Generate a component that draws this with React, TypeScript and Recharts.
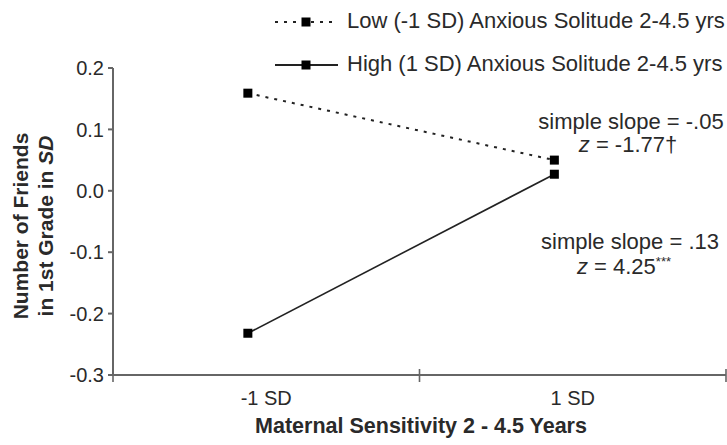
import { LineChart, Line, XAxis, YAxis, Customized } from 'recharts';

// data
const groups = ['-1 SD', '1 SD'];
const groupX = [0.44, 1.44];
const lowAS = [0.159, 0.05];
const highAS = [-0.232, 0.027];
const yTicks = [-0.3, -0.2, -0.1, 0, 0.1, 0.2];
const xTicks = [0, 0.5, 1, 1.5, 2];

const data = groups.map((g, i) => ({ name: g, x: groupX[i], low: lowAS[i], high: highAS[i] }));

const FONT = '"Liberation Sans", Arial, sans-serif';
const INK = '#2a2a2a';
const AXIS = '#666';

const SquareDot = (props: any) => {
    const { cx, cy } = props;
    if (cx == null || cy == null) return null;
    return <rect x={cx - 4.5} y={cy - 4.5} width={9} height={9} fill="#000" />;
};

const XTick = (props: any) => {
    const { x, y, payload } = props;
    const v = payload.value;
    if (Number.isInteger(v)) {
        return <line x1={x} x2={x} y1={y - 6} y2={y + 7} stroke={AXIS} strokeWidth={1.6} />;
    }
    const idx = v === 0.5 ? 0 : 1;
    return (
        <text x={x} y={y + 30} textAnchor="middle" fontSize={20} fill={INK} fontFamily={FONT}>
            {groups[idx]}
        </text>
    );
};

const Extras = () => (
    <g fontFamily={FONT} fill={INK}>
        {/* legend */}
        <line x1={275} x2={338} y1={22} y2={22} stroke="#222" strokeWidth={2} strokeDasharray="3 6" />
        <rect x={301.5} y={17.5} width={9} height={9} fill="#000" />
        <text x={347} y={28} fontSize={22}>Low (-1 SD) Anxious Solitude 2-4.5 yrs</text>
        <line x1={275} x2={338} y1={65} y2={65} stroke="#222" strokeWidth={1.8} />
        <rect x={301.5} y={60.5} width={9} height={9} fill="#000" />
        <text x={347} y={71} fontSize={22}>High (1 SD) Anxious Solitude 2-4.5 yrs</text>

        {/* simple slopes */}
        <text x={631} y={129} fontSize={22} textAnchor="middle">simple slope = -.05</text>
        <text x={628} y={152} fontSize={22} textAnchor="middle">
            <tspan fontStyle="italic">z</tspan> = -1.77†
        </text>
        <text x={630} y={249} fontSize={22} textAnchor="middle">simple slope = .13</text>
        <text x={624} y={274} fontSize={22} textAnchor="middle">
            <tspan fontStyle="italic">z</tspan> = 4.25<tspan fontSize={13} dy={-8}>***</tspan>
        </text>

        {/* axis titles */}
        <text transform="translate(28,226) rotate(-90)" fontSize={21} fontWeight="bold" textAnchor="middle">
            Number of Friends
        </text>
        <text transform="translate(53,226) rotate(-90)" fontSize={21} fontWeight="bold" textAnchor="middle">
            in 1st Grade in <tspan fontStyle="italic">SD</tspan>
        </text>
        <text x={421} y={433} fontSize={21.5} fontWeight="bold" textAnchor="middle">
            Maternal Sensitivity 2 - 4.5 Years
        </text>
    </g>
);

export default function App() {
    return (
        <div style={{ position: 'absolute', left: 0, top: 0, width: 727, height: 445, background: '#fff' }}>
            <LineChart width={727} height={445} data={data} margin={{ top: 68, right: 1, left: 53, bottom: 40 }}>
                <XAxis
                    dataKey="x"
                    type="number"
                    domain={[0, 2]}
                    ticks={xTicks}
                    interval={0}
                    height={30}
                    tickSize={0}
                    tickMargin={0}
                    tickLine={false}
                    tick={<XTick />}
                    stroke={AXIS}
                    strokeWidth={2}
                />
                <YAxis
                    type="number"
                    domain={[-0.3, 0.2]}
                    ticks={yTicks}
                    interval={0}
                    width={60}
                    tickSize={5}
                    tickMargin={4}
                    tickFormatter={(v: number) => v.toFixed(1)}
                    tick={{ fontSize: 20, fill: INK, fontFamily: FONT }}
                    stroke={AXIS}
                    strokeWidth={2}
                />
                <Line
                    type="linear"
                    dataKey="low"
                    stroke="#222"
                    strokeWidth={2}
                    strokeDasharray="3 6"
                    dot={<SquareDot />}
                    isAnimationActive={false}
                />
                <Line
                    type="linear"
                    dataKey="high"
                    stroke="#222"
                    strokeWidth={1.6}
                    dot={<SquareDot />}
                    isAnimationActive={false}
                />
                <Customized component={<Extras />} />
            </LineChart>
        </div>
    );
}
